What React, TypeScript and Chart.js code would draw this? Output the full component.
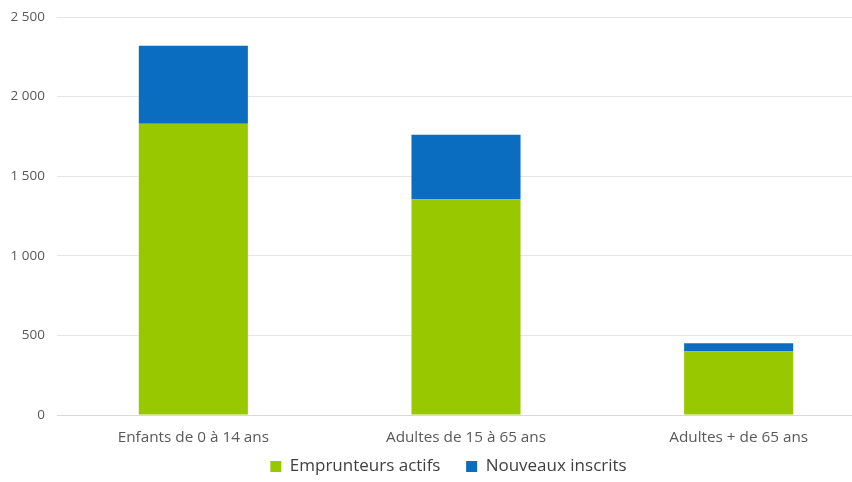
import React, { useEffect, useRef } from "react";
import { Chart, registerables } from "chart.js";

Chart.register(...registerables);

const categories = ["Enfants de 0 à 14 ans", "Adultes de 15 à 65 ans", "Adultes + de 65 ans"];
const emprunteursActifs = [1830, 1355, 400];
const nouveauxInscrits = [490, 405, 50];
const yTicks = [0, 500, 1000, 1500, 2000, 2500];

const fmt = (v: number) => String(v).replace(/\B(?=(\d{3})+(?!\d))/g, " ");

const shiftLegend = {
  id: "shiftLegend",
  afterLayout(chart: any) {
    const lg = chart.legend;
    if (lg) {
      lg.left += 22;
      lg.top += 3;
      lg.bottom += 3;
    }
  },
};

export default function App() {
  const ref = useRef<HTMLCanvasElement | null>(null);
  useEffect(() => {
    document.body.style.margin = "0";
    document.body.style.overflow = "hidden";
    const ctx = ref.current!;
    const chart = new Chart(ctx, {
      type: "bar",
      data: {
        labels: categories,
        datasets: [
          { label: "Emprunteurs actifs", data: emprunteursActifs, backgroundColor: "#97c800", barPercentage: 0.4, categoryPercentage: 1 },
          { label: "Nouveaux inscrits", data: nouveauxInscrits, backgroundColor: "#0a6dbf", barPercentage: 0.4, categoryPercentage: 1 },
        ],
      },
      plugins: [shiftLegend],
      options: {
        animation: false,
        responsive: false,
        maintainAspectRatio: false,
        layout: { padding: { top: 17, right: 0, bottom: 0, left: 0 } },
        plugins: {
          tooltip: { enabled: false },
          legend: {
            position: "bottom",
            labels: {
              boxWidth: 11,
              boxHeight: 11,
              padding: 8,
              color: "#404040",
              font: { family: "Open Sans", size: 17 },
              generateLabels: (c: any) => {
                const items = Chart.defaults.plugins.legend.labels.generateLabels(c);
                return items.map((it: any, i: number) => (i === 0 ? { ...it, text: it.text + "    " } : it));
              },
            },
          },
        },
        scales: {
          x: {
            stacked: true,
            grid: { display: false },
            border: { display: true, color: "#d9d9d9" },
            ticks: { color: "#595959", font: { family: "Open Sans", size: 15.3 }, padding: 5 },
            afterFit: (s: any) => { s.height = 32; },
          },
          y: {
            stacked: true,
            min: 0,
            max: 2500,
            afterBuildTicks: (s: any) => { s.ticks = yTicks.map((v) => ({ value: v })); },
            grid: { color: "#e6e6e6", drawTicks: false },
            border: { display: false },
            ticks: {
              color: "#595959",
              font: { family: "Open Sans", size: 13.5 },
              padding: 12,
              callback: (v: any) => fmt(Number(v)),
            },
            afterFit: (s: any) => { s.width = 57; s.paddingTop = 0; s.paddingBottom = 0; },
          },
        },
      },
    });
    return () => chart.destroy();
  }, []);
  return (
    <div style={{ width: 852, height: 482, overflow: "hidden", position: "relative", background: "#fff" }}>
      <canvas ref={ref} width={875} height={482} style={{ position: "absolute", left: 0, top: 0, width: 875, height: 482 }} />
    </div>
  );
}
